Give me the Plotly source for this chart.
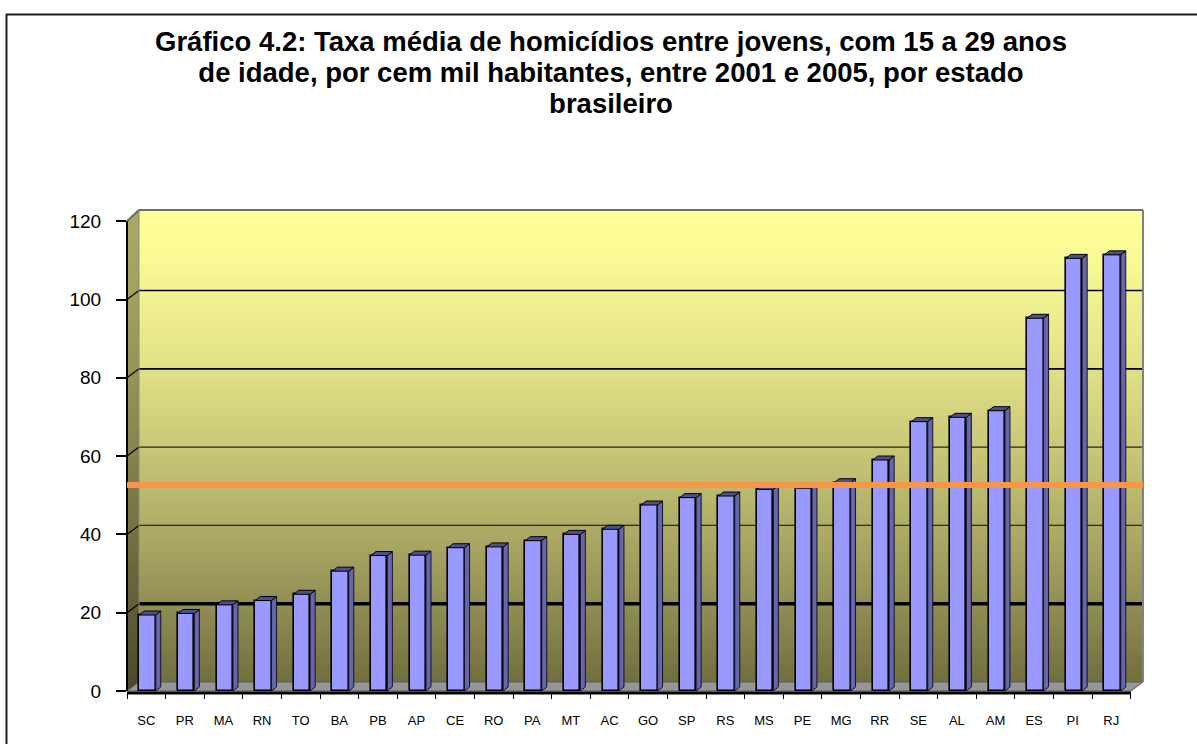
import plotly.graph_objects as go

# ---------------- data ----------------
estados = ["SC", "PR", "MA", "RN", "TO", "BA", "PB", "AP", "CE", "RO", "PA", "MT", "AC",
           "GO", "SP", "RS", "MS", "PE", "MG", "RR", "SE", "AL", "AM", "ES", "PI", "RJ"]
taxas = [19.4, 19.8, 22.0, 23.1, 24.7, 30.6, 34.6, 34.7, 36.6, 36.8, 38.4, 40.0, 41.3,
         47.5, 49.4, 49.8, 51.5, 51.8, 53.2, 59.0, 68.8, 69.9, 71.6, 95.2, 110.5, 111.4]
media_nacional = 52.6
y_ticks = [0, 20, 40, 60, 80, 100, 120]
titulo_linhas = ["Gráfico 4.2: Taxa média de homicídios entre jovens, com 15 a 29 anos",
                 "de idade, por cem mil habitantes, entre 2001 e 2005, por estado",
                 "brasileiro"]

# ---------------- geometry (pixels) ----------------
W, H = 1197, 744
PL, PR_, PT, PB_ = 127, 1143, 205, 692      # plot area
ZERO_PX = 691
PX_PER_UNIT_Y = 3.915
PX_PER_CAT = 38.6
n = len(estados)

x_lo = -0.5
x_hi = x_lo + (PR_ - PL) / PX_PER_CAT
y_lo = -(PB_ - ZERO_PX) / PX_PER_UNIT_Y
y_hi = (ZERO_PX - PT) / PX_PER_UNIT_Y

# 3D offsets
wall_dx = 12 / PX_PER_CAT
wall_dy = 9 / PX_PER_UNIT_Y
bar_dx = 5 / PX_PER_CAT
bar_dy = 4 / PX_PER_UNIT_Y
bar_off = -0.18
bar_w = 0.425
wall_top = (ZERO_PX - 210) / PX_PER_UNIT_Y
x_front_end = x_lo + 1004 / PX_PER_CAT


def PX(v):  # data x -> paper x
    return (v - x_lo) / (x_hi - x_lo)


def PY(v):  # data y -> paper y
    return (v - y_lo) / (y_hi - y_lo)


def ppx(px):  # pixel -> paper x
    return (px - PL) / (PR_ - PL)


def ppy(py):  # pixel -> paper y
    return (PB_ - py) / (PB_ - PT)


def mix(c1, c2, t):
    return tuple(round(a + (b - a) * t) for a, b in zip(c1, c2))


def rgb(c):
    return "rgb(%d,%d,%d)" % c


shapes = []
TOPC = (255, 255, 153)
BOTC = (113, 110, 64)

# back wall gradient
NB = 80
wb0, wb1 = wall_dy, wall_top
for k in range(NB):
    f0 = k / NB
    f1 = (k + 1) / NB
    yb = wb0 + (wb1 - wb0) * f0
    yt = wb0 + (wb1 - wb0) * f1
    f = 1 - (f0 + f1) / 2  # fraction from top
    col = mix(TOPC, BOTC, f ** 1.4)
    shapes.append(dict(type="rect", xref="paper", yref="paper", layer="below",
                       x0=PX(x_lo + wall_dx), x1=1, y0=PY(yb), y1=PY(yt) + 0.002,
                       fillcolor=rgb(col), line=dict(width=0)))

# side wall gradient (parallelogram bands)
for k in range(NB):
    f0 = k / NB
    f1 = (k + 1) / NB
    a0 = 120 * f0
    a1 = 120 * f1
    b0 = wall_dy + (wall_top - wall_dy) * f0
    b1 = wall_dy + (wall_top - wall_dy) * f1
    f = 1 - (f0 + f1) / 2
    col = mix(TOPC, BOTC, f ** 1.4)
    col = tuple(round(c * 0.66) for c in col)
    path = "M %f %f L %f %f L %f %f L %f %f Z" % (
        PX(x_lo), PY(a0), PX(x_lo + wall_dx), PY(b0),
        PX(x_lo + wall_dx), PY(b1 + 0.3), PX(x_lo), PY(a1 + 0.3))
    shapes.append(dict(type="path", xref="paper", yref="paper", layer="below",
                       path=path, fillcolor=rgb(col), line=dict(width=0)))

# floor
shapes.append(dict(type="path", xref="paper", yref="paper", layer="below",
                   path="M %f %f L %f %f L %f %f L %f %f Z" % (
                       PX(x_lo), PY(0), PX(x_front_end), PY(0),
                       PX(x_hi), PY(wall_dy), PX(x_lo + wall_dx), PY(wall_dy)),
                   fillcolor="rgb(150,150,150)", line=dict(color="rgb(90,90,90)", width=1)))

# gridlines on back wall + connectors on side wall
grid_style = {20: (3.5, "black"), 40: (1.3, "rgb(40,40,30)"), 60: (1.3, "rgb(40,40,30)"),
              80: (1.8, "black"), 100: (1.3, "black")}
for v in y_ticks[1:-1]:
    w, c = grid_style[v]
    shapes.append(dict(type="line", xref="paper", yref="paper", layer="below",
                       x0=PX(x_lo + wall_dx), x1=1, y0=PY(v + wall_dy), y1=PY(v + wall_dy),
                       line=dict(color=c, width=w)))
    shapes.append(dict(type="line", xref="paper", yref="paper", layer="below",
                       x0=PX(x_lo), x1=PX(x_lo + wall_dx), y0=PY(v), y1=PY(v + wall_dy),
                       line=dict(color="black", width=1.2)))

# wall edges
shapes.append(dict(type="line", xref="paper", yref="paper", layer="below",
                   x0=PX(x_lo + wall_dx), x1=1, y0=PY(wall_top), y1=PY(wall_top),
                   line=dict(color="rgb(110,110,100)", width=2)))
shapes.append(dict(type="line", xref="paper", yref="paper", layer="below",
                   x0=1, x1=1, y0=PY(wall_dy), y1=PY(wall_top),
                   line=dict(color="rgb(130,130,130)", width=2)))
shapes.append(dict(type="line", xref="paper", yref="paper", layer="below",
                   x0=PX(x_lo), x1=PX(x_lo + wall_dx), y0=PY(120), y1=PY(wall_top),
                   line=dict(color="rgb(110,110,100)", width=2)))
shapes.append(dict(type="line", xref="paper", yref="paper", layer="below",
                   x0=PX(x_lo + wall_dx), x1=PX(x_lo + wall_dx), y0=PY(wall_dy), y1=PY(wall_top),
                   line=dict(color="rgb(140,140,120)", width=1)))
# axis lines (front)
shapes.append(dict(type="line", xref="paper", yref="paper", layer="above",
                   x0=PX(x_lo), x1=PX(x_lo), y0=PY(0), y1=PY(120),
                   line=dict(color="black", width=2)))
shapes.append(dict(type="line", xref="paper", yref="paper", layer="above",
                   x0=PX(x_lo), x1=PX(x_front_end), y0=ppy(693), y1=ppy(693),
                   line=dict(color="black", width=3)))

# orange reference line
shapes.append(dict(type="line", xref="paper", yref="paper", layer="above",
                   x0=0, x1=1, y0=PY(media_nacional), y1=PY(media_nacional),
                   line=dict(color="#F79646", width=6)))

# outer border (left and top)
shapes.append(dict(type="line", xref="paper", yref="paper", layer="above",
                   x0=ppx(6.5), x1=ppx(6.5), y0=ppy(14), y1=ppy(760),
                   line=dict(color="rgb(30,30,30)", width=2)))
shapes.append(dict(type="line", xref="paper", yref="paper", layer="above",
                   x0=ppx(6), x1=ppx(1210), y0=ppy(14.5), y1=ppy(14.5),
                   line=dict(color="rgb(30,30,30)", width=2)))

# ---------------- bar traces ----------------
xs = list(range(n))
front = go.Bar(x=xs, y=taxas, width=bar_w, offset=bar_off,
               marker=dict(color="#9999FF", line=dict(color="black", width=1.6)),
               hoverinfo="skip", showlegend=False)

side_x, side_y, top_x, top_y = [], [], [], []
for i, v in zip(xs, taxas):
    l = i + bar_off
    r = l + bar_w
    side_x += [r, r + bar_dx, r + bar_dx, r, r, None]
    side_y += [0, bar_dy, v + bar_dy, v, 0, None]
    top_x += [l, r, r + bar_dx, l + bar_dx, l, None]
    top_y += [v, v, v + bar_dy, v + bar_dy, v, None]

side = go.Scatter(x=side_x, y=side_y, mode="lines", fill="toself",
                  fillcolor="#6666AA", line=dict(color="rgb(20,20,40)", width=1),
                  hoverinfo="skip", showlegend=False)
top = go.Scatter(x=top_x, y=top_y, mode="lines", fill="toself",
                 fillcolor="#4F4F8C", line=dict(color="black", width=1),
                 hoverinfo="skip", showlegend=False)

fig = go.Figure([front, side, top])

FONT = "Arial, Liberation Sans, sans-serif"
TITLE_BASE = 24      # sets the line spacing (1.3 em)
TITLE_GLYPH = 27.5   # actual glyph size
titulo = "<br>".join('<b><span style="font-size:%.1fpx">%s</span></b>' % (TITLE_GLYPH, t)
                     for t in titulo_linhas)
fig.update_layout(
    width=W, height=H,
    margin=dict(l=PL, r=W - PR_, t=PT, b=H - PB_, pad=0),
    paper_bgcolor="white", plot_bgcolor="rgba(0,0,0,0)",
    font=dict(family=FONT, color="black"),
    title=dict(text=titulo, x=611 / W, xanchor="center", xref="container",
               y=1 - 51 / H, yanchor="top", yref="container",
               font=dict(family=FONT, size=TITLE_BASE, color="black")),
    shapes=shapes,
    bargap=0,
)
fig.update_xaxes(range=[x_lo, x_hi], tickmode="array", tickvals=xs, ticktext=estados,
                 ticks="", showgrid=False, zeroline=False, showline=False,
                 tickfont=dict(size=13, family=FONT, color="black"),
                 ticklabelstandoff=19,
                 minor=dict(tickmode="array", tickvals=[i + 0.5 for i in range(-1, n)],
                            ticks="outside", ticklen=6, tickcolor="black", tickwidth=1.2))
fig.update_yaxes(range=[y_lo, y_hi], tickmode="array", tickvals=y_ticks,
                 ticks="outside", ticklen=10, tickcolor="black", tickwidth=1.5,
                 showgrid=False, zeroline=False, showline=False,
                 tickfont=dict(size=19, family=FONT, color="black"),
                 ticklabelstandoff=11)

fig.write_html("out.html", config=dict(displayModeBar=False),
               post_script="document.body.style.margin='0';document.body.style.overflow='hidden';")
